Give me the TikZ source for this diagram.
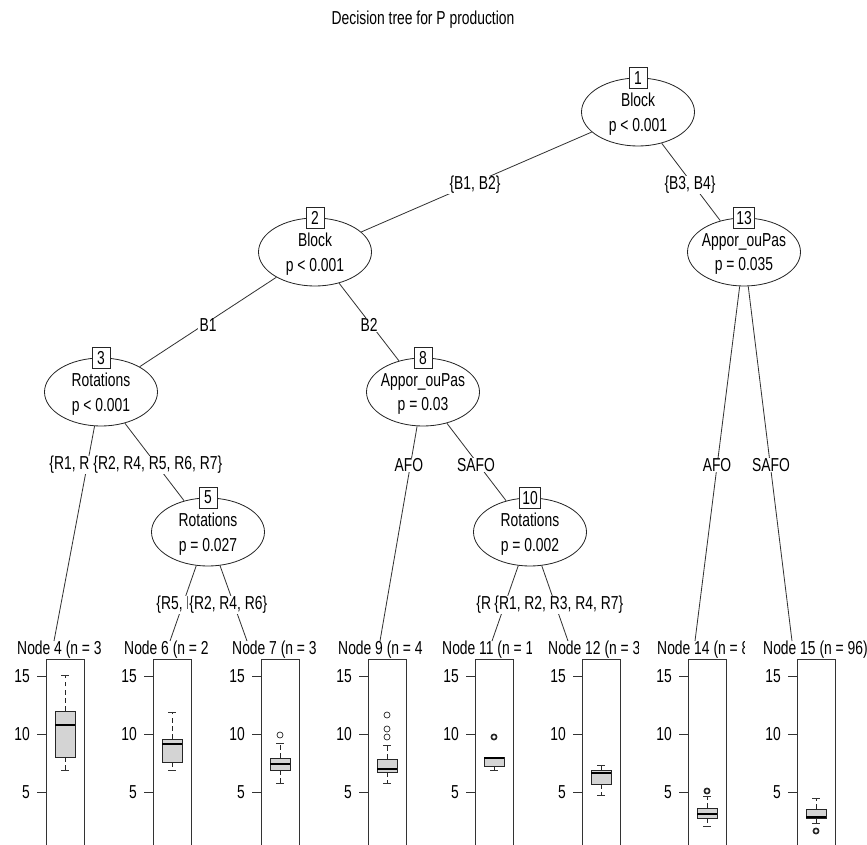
\documentclass[tikz,border=0pt]{standalone}
\usepackage{fontspec}
\setmainfont{Liberation Sans}[FakeStretch=0.74]
\usetikzlibrary{shapes.geometric, positioning}

\begin{document}
\begin{tikzpicture}[
    x = 0.03cm, y = -0.03cm, % pixel grid of the plot
    font = \fontsize{16}{21}\selectfont,
    edge/.style={draw=black!80, line width=0.7pt},
    split/.style={ellipse, draw=black!85, line width=0.7pt, minimum width=3.39cm, minimum height=2.04cm, inner xsep=-8pt, inner ysep=0pt, text depth=-2.5pt, align=center},
    idbox/.style={draw=black!85, fill=white, line width=0.7pt, minimum width=0.54cm, minimum height=0.63cm, inner xsep=2.5pt, inner ysep=0pt},
    elab/.style={fill=white, inner xsep=1pt, inner ysep=0pt},
    panel/.style={draw=black!80, line width=0.7pt},
    bx/.style={draw=black!85, fill=black!17, line width=0.6pt},
    med/.style={line width=1.8pt},
    whisk/.style={draw=black!85, line width=0.6pt, dash pattern=on 4pt off 3pt},
    outlier/.style={draw=black!85, fill=white, line width=0.6pt}
]
\useasboundingbox (0,0) rectangle (867,845);

% --- Title ---
\node (title) at (423,20) {Decision tree for P production};

% --- Inner nodes ---
\node[split] (n1) at (638,112) {Block\\p < 0.001};
\node[split] (n2) at (315,252) {Block\\p < 0.001};
\node[split] (n13) at (744,252) {Appor\_ouPas\\p = 0.035};
\node[split] (n3) at (101,392) {Rotations\\p < 0.001};
\node[split] (n8) at (423,392) {Appor\_ouPas\\p = 0.03};
\node[split] (n5) at (208,532) {Rotations\\p = 0.027};
\node[split] (n10) at (530,532) {Rotations\\p = 0.002};

% --- Tops of the leaf panels ---
\coordinate (t4) at (54,641);
\coordinate (t6) at (170,641);
\coordinate (t7) at (247,641);
\coordinate (t9) at (380,641);
\coordinate (t11) at (492,641);
\coordinate (t12) at (568,641);
\coordinate (t14) at (695,641);
\coordinate (t15) at (792,641);

% --- Edges ---
\draw[edge] (n1) -- (n2);
\draw[edge] (n1) -- (n13);
\draw[edge] (n2) -- (n3);
\draw[edge] (n2) -- (n8);
\draw[edge] (n3) -- (t4);
\draw[edge] (n3) -- (n5);
\draw[edge] (n5) -- (t6);
\draw[edge] (n5) -- (t7);
\draw[edge] (n8) -- (t9);
\draw[edge] (n8) -- (n10);
\draw[edge] (n10) -- (t11);
\draw[edge] (n10) -- (t12);
\draw[edge] (n13) -- (t14);
\draw[edge] (n13) -- (t15);

% --- Node numbers ---
\node[idbox] (id1) at (n1.north) {1};
\node[idbox] (id2) at (n2.north) {2};
\node[idbox] (id13) at (n13.north) {13};
\node[idbox] (id3) at (n3.north) {3};
\node[idbox] (id8) at (n8.north) {8};
\node[idbox] (id5) at (n5.north) {5};
\node[idbox] (id10) at (n10.north) {10};

% --- Edge labels ---
\node[elab] (l2) at (475,185) {\{B1, B2\}};
\node[elab] (l13) at (690,185) {\{B3, B4\}};
\node[elab] (l3) at (208,325) {B1};
\node[elab] (l8) at (369,325) {B2};
\node[elab, anchor=west] (l4) at (48,465) {\{R1, R};
\node[elab, anchor=west] (l5) at (92,465) {\{R2, R4, R5, R6, R7\}};
\node[elab] (l9) at (409,465) {AFO};
\node[elab] (l10) at (476,465) {SAFO};
\node[elab] (l14) at (717,465) {AFO};
\node[elab] (l15) at (771,465) {SAFO};
\node[elab, anchor=west] (l6) at (155,605) {\{R5, R};
\node[elab, anchor=west] (l7) at (188,605) {\{R2, R4, R6\}};
\node[elab, anchor=west] (l11) at (475,605) {\{R};
\node[elab, anchor=west] (l12) at (493,605) {\{R1, R2, R3, R4, R7\}};

% --- Leaf panels: frame, header, axis ---
\foreach \L/\hx/\cr/\n/\txt in {46/17/102/4/{Node 4 (n = 3}, 153/124/209/6/{Node 6 (n = 2},
    261/232/317/7/{Node 7 (n = 3}, 368/338/424/9/{Node 9 (n = 4}, 475/442/531/11/{Node 11 (n = 1},
    582/548/638/12/{Node 12 (n = 3}, 688/657/744/14/{Node 14 (n = 8}, 797/763/870/15/{Node 15 (n = 96)}}
{
    \draw[panel] (\L,845) |- (\L+38,659) -- (\L+38,845);
    \begin{scope}
        \clip (\L-45,630) rectangle (\cr,662);
        \node[anchor=west, inner xsep=0pt] (h\n) at (\hx,650) {\txt};
    \end{scope}
    \foreach \v/\yy in {15/676, 10/734, 5/792} {
        \draw[panel] (\L-9,\yy) -- (\L,\yy);
        \node[anchor=east, inner sep=0pt] (a\n-\v) at (\L-16,\yy) {\v};
    }
}

% --- Boxplots ---
\foreach \L/\wt/\bt/\md/\bb/\wb in {46/675/711/725/757/770, 153/712/739/744/762/770,
    261/743/758/764/770/783, 368/745/759/769/772/783, 475/757/757/758/766/770,
    582/765/770/773/784/795, 688/796/808/814/818/826, 797/798/809/817/818/823}
{
    \draw[whisk] (\L+19,\bt) -- (\L+19,\wt);
    \draw[whisk] (\L+19,\bb) -- (\L+19,\wb);
    \draw[panel] (\L+15,\wt) -- (\L+23,\wt);
    \draw[panel] (\L+15,\wb) -- (\L+23,\wb);
    \draw[bx] (\L+9,\bt) rectangle (\L+29,\bb);
    \draw[med] (\L+9,\md) -- (\L+29,\md);
}

% outliers
\foreach \px/\py in {280/735, 387/715, 387/729, 387/737}
    \draw[outlier] (\px,\py) circle[radius=3];
\foreach \px/\py in {494/737, 707/791, 816/831}
    \draw[outlier, line width=1.4pt] (\px,\py) circle[radius=2.6];

\end{tikzpicture}
\end{document}
